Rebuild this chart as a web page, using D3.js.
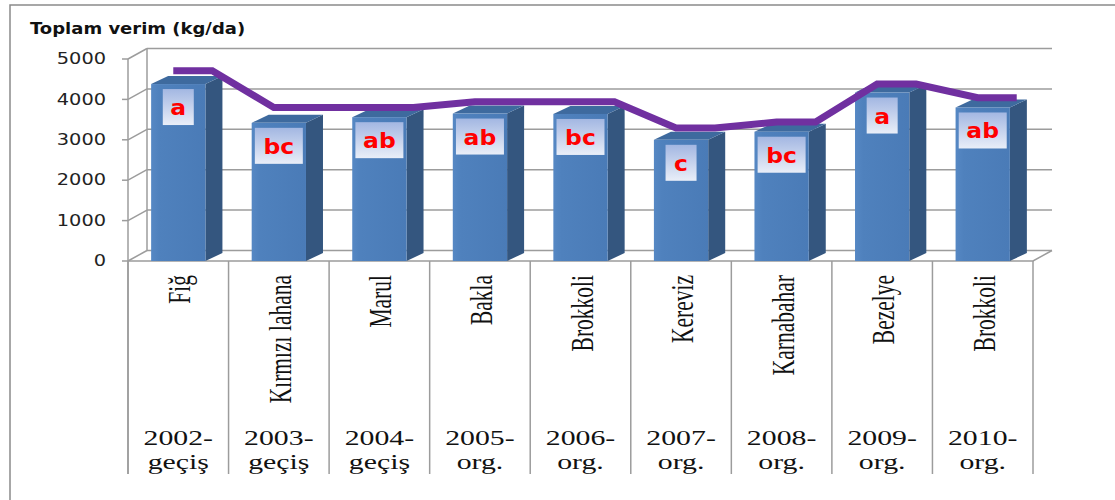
<!DOCTYPE html>
<html>
<head>
<meta charset="utf-8">
<script src="https://cdn.jsdelivr.net/npm/d3@7"></script>
<style>
  body { margin: 0; background: #fff; }
  svg { display: block; }
  .grid { stroke: #9c9c9c; stroke-width: 1.5; fill: none; }
  .ytick { font-family: "DejaVu Sans", sans-serif; font-size: 15px; fill: #222; }
  .title { font-family: "DejaVu Sans", sans-serif; font-size: 15px; font-weight: bold; fill: #111; }
  .crop { font-family: "Liberation Serif", serif; font-size: 21.5px; fill: #111; }
  .year { font-family: "Liberation Serif", serif; font-size: 21px; fill: #111; }
  .grp { font-family: "DejaVu Sans", sans-serif; font-size: 21px; font-weight: bold; fill: #ff0000; }
</style>
</head>
<body>
<div id="chart"></div>
<script>
// crops by year, with the statistical group letters
var crops   = ["Fiğ", "Kırmızı lahana", "Marul", "Bakla", "Brokkoli", "Kereviz", "Karnabahar", "Bezelye", "Brokkoli"];
var years   = ["2002-", "2003-", "2004-", "2005-", "2006-", "2007-", "2008-", "2009-", "2010-"];
var systems = ["geçiş", "geçiş", "geçiş", "org.", "org.", "org.", "org.", "org.", "org."];
var barValues  = [4380, 3420, 3560, 3650, 3640, 3000, 3200, 4170, 3800];
var lineValues = [4450, 3540, 3540, 3680, 3680, 3030, 3180, 4120, 3780];
var groups  = ["a", "bc", "ab", "ab", "bc", "c", "bc", "a", "ab"];
var yTicks  = [0, 1000, 2000, 3000, 4000, 5000];

var width = 1115, height = 500;
var dx = 19, dy = -10.5;      // depth of the back wall
var bdx = 17, bdy = -8;       // depth of a column
var tableBottom = 474;

var svg = d3.select("#chart").append("svg")
    .attr("width", width)
    .attr("height", height);

var x = d3.scaleBand().domain(d3.range(crops.length)).range([128, 1033]);
var y = d3.scaleLinear().domain([0, 5000]).range([261, 59]);
var barW = x.bandwidth() * 0.54;

// outer frame (only top and left show)
svg.append("path")
    .attr("d", "M10,500 L10,5 L1115,5")
    .attr("fill", "none").attr("stroke", "#8a8a8a").attr("stroke-width", 1.5);

// title
svg.append("text")
    .attr("class", "title")
    .attr("transform", "translate(30,34) scale(1.2,1)")
    .text("Toplam verim (kg/da)");

// back wall gridlines, side wall diagonals and front ticks
var x0 = x.range()[0], x1 = x.range()[1];
yTicks.forEach(function(t) {
    svg.append("line").attr("class", "grid")
        .attr("x1", x0 + dx).attr("x2", x1 + dx)
        .attr("y1", y(t) + dy).attr("y2", y(t) + dy);
    svg.append("line").attr("class", "grid")
        .attr("x1", x0 - 6).attr("x2", x0)
        .attr("y1", y(t)).attr("y2", y(t));
    svg.append("line").attr("class", "grid")
        .attr("x1", x0).attr("x2", x0 + dx)
        .attr("y1", y(t)).attr("y2", y(t) + dy);
    svg.append("text")
        .attr("class", "ytick")
        .attr("text-anchor", "end")
        .attr("dy", "0.35em")
        .attr("transform", "translate(106," + y(t) + ") scale(1.29,1)")
        .text(t);
});
svg.append("line").attr("class", "grid")
    .attr("x1", x0 + dx).attr("x2", x0 + dx)
    .attr("y1", y(0) + dy).attr("y2", y(5000) + dy);
// floor
svg.append("path").attr("class", "grid")
    .attr("d", "M" + x0 + "," + y(0) + " L" + x1 + "," + y(0) +
               " L" + (x1 + dx) + "," + (y(0) + dy));
// front axis line and table separators
svg.append("line").attr("class", "grid")
    .attr("x1", x0).attr("x2", x0)
    .attr("y1", y(5000)).attr("y2", tableBottom);
d3.range(crops.length + 1).forEach(function(i) {
    var xx = x0 + i * x.bandwidth();
    svg.append("line").attr("class", "grid")
        .attr("x1", xx).attr("x2", xx)
        .attr("y1", y(0)).attr("y2", tableBottom);
});

// gradients
var defs = svg.append("defs");
var lg = defs.append("linearGradient").attr("id", "boxg")
    .attr("x1", 0).attr("y1", 0).attr("x2", 0).attr("y2", 1);
lg.append("stop").attr("offset", "0%").attr("stop-color", "#a3b7e2");
lg.append("stop").attr("offset", "100%").attr("stop-color", "#e9eef8");
var fg = defs.append("linearGradient").attr("id", "frontg")
    .attr("x1", 0).attr("y1", 0).attr("x2", 1).attr("y2", 0);
fg.append("stop").attr("offset", "0%").attr("stop-color", "#5688c4");
fg.append("stop").attr("offset", "15%").attr("stop-color", "#4f81bd");
fg.append("stop").attr("offset", "100%").attr("stop-color", "#4a7bb7");

// purple line at the back
var linePts = [];
lineValues.forEach(function(v, i) {
    var cx = x(i) + x.bandwidth() / 2 + dx;
    linePts.push([cx - 24, y(v) + dy]);
    linePts.push([cx + 15, y(v) + dy]);
});

// columns
var bar = svg.selectAll("g.bar")
    .data(barValues)
    .enter().append("g")
    .attr("class", "bar");

bar.append("path")   // right side
    .attr("fill", "#34567f")
    .attr("d", function(d, i) {
        var r = x(i) + x.bandwidth() / 2 + barW / 2;
        return "M" + r + "," + y(d) + " L" + (r + bdx) + "," + (y(d) + bdy) +
               " L" + (r + bdx) + "," + (y(0) + bdy) + " L" + r + "," + y(0) + "Z";
    });
bar.append("path")   // top
    .attr("fill", "#3e6a9e")
    .attr("d", function(d, i) {
        var l = x(i) + x.bandwidth() / 2 - barW / 2, r = l + barW;
        return "M" + l + "," + y(d) + " L" + (l + bdx) + "," + (y(d) + bdy) +
               " L" + (r + bdx) + "," + (y(d) + bdy) + " L" + r + "," + y(d) + "Z";
    });
bar.append("rect")   // front
    .attr("fill", "url(#frontg)")
    .attr("x", function(d, i) { return x(i) + x.bandwidth() / 2 - barW / 2; })
    .attr("y", function(d) { return y(d); })
    .attr("width", barW)
    .attr("height", function(d) { return y(0) - y(d); });

svg.append("path")
    .attr("d", d3.line()(linePts))
    .attr("fill", "none")
    .attr("stroke", "#7030a0")
    .attr("stroke-width", 7)
    .attr("stroke-linejoin", "miter");

// group letters in boxes
bar.append("rect")
    .attr("fill", "url(#boxg)")
    .attr("x", function(d, i) {
        var w = groups[i].length > 1 ? 48 : 31;
        return x(i) + x.bandwidth() / 2 - w / 2;
    })
    .attr("y", function(d) { return y(d) + 5; })
    .attr("width", function(d, i) { return groups[i].length > 1 ? 48 : 31; })
    .attr("height", 36);
bar.append("text")
    .attr("class", "grp")
    .attr("text-anchor", "middle")
    .attr("transform", function(d, i) {
        return "translate(" + (x(i) + x.bandwidth() / 2) + "," + (y(d) + 31) + ") scale(1.12,1)";
    })
    .text(function(d, i) { return groups[i]; });

// category labels
crops.forEach(function(c, i) {
    var cx = x(i) + x.bandwidth() / 2;
    svg.append("text")
        .attr("class", "crop")
        .attr("text-anchor", "end")
        .attr("transform", "translate(" + (cx + 12) + ",275) rotate(-90) scale(1,1.5)")
        .text(c);
    var yt = svg.append("text")
        .attr("class", "year")
        .attr("text-anchor", "middle")
        .attr("transform", "translate(" + cx + ",445) scale(1.42,1)");
    yt.append("tspan").attr("x", 0).attr("y", 0).text(years[i]);
    yt.append("tspan").attr("x", 0).attr("y", 24).text(systems[i]);
});
</script>
</body>
</html>
